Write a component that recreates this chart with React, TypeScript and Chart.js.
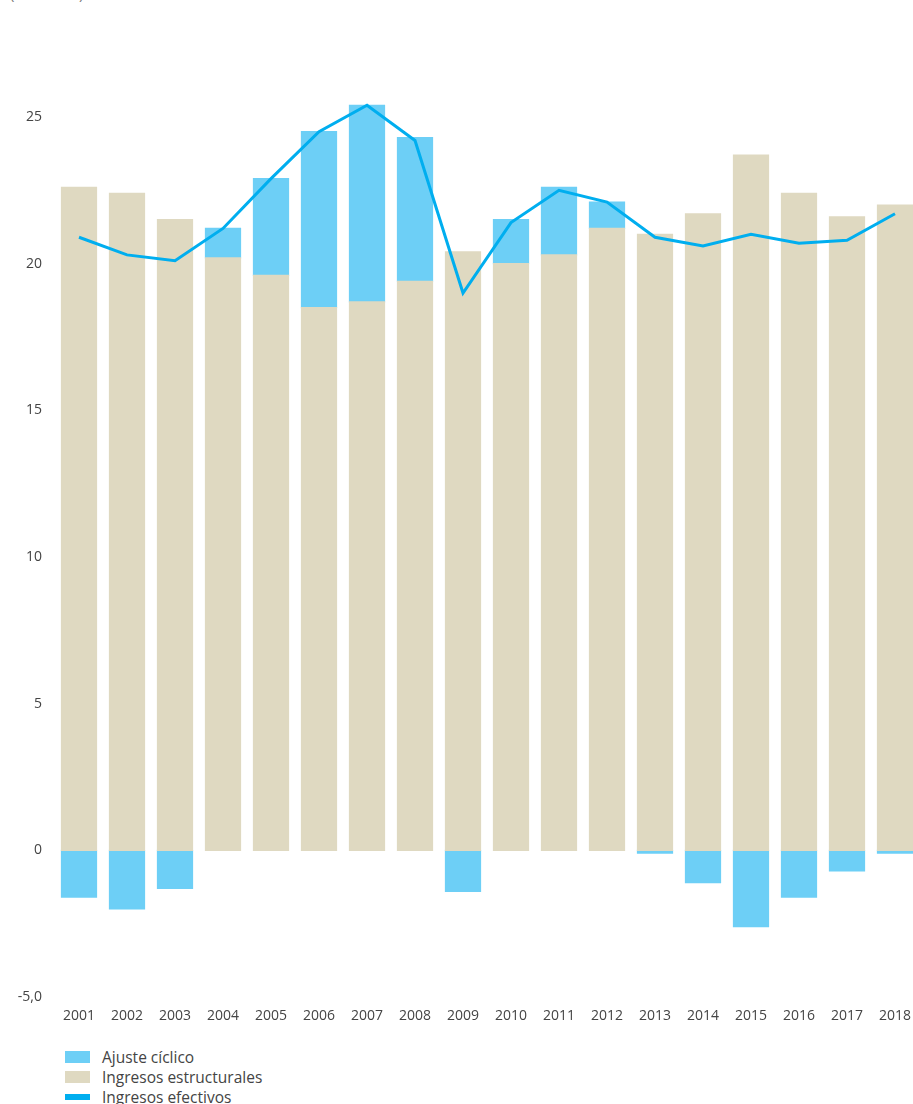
import React, { useEffect, useRef } from "react";
import { Chart, registerables } from "chart.js";

Chart.register(...registerables);

const years = ["2001","2002","2003","2004","2005","2006","2007","2008","2009","2010","2011","2012","2013","2014","2015","2016","2017","2018"];
const ingresosEstructurales = [22.6, 22.4, 21.5, 20.2, 19.6, 18.5, 18.7, 19.4, 20.4, 20.0, 20.3, 21.2, 21.0, 21.7, 23.7, 22.4, 21.6, 22.0];
const ajusteCiclico = [-1.6, -2.0, -1.3, 1.0, 3.3, 6.0, 6.7, 4.9, -1.4, 1.5, 2.3, 0.9, -0.1, -1.1, -2.6, -1.6, -0.7, -0.1];
const ingresosEfectivos = [20.9, 20.3, 20.1, 21.2, 22.9, 24.5, 25.4, 24.2, 19.0, 21.4, 22.5, 22.1, 20.9, 20.6, 21.0, 20.7, 20.8, 21.7];
const yTicks = [-5, 0, 5, 10, 15, 20, 25];

const COLOR_CICLICO = "#6dcff6";
const COLOR_ESTRUCT = "#dfd9c1";
const COLOR_EFECTIVO = "#00aeef";
const TEXT = "#444444";
const FONT = "'Open Sans', sans-serif";

export default function App() {
  const ref = useRef<HTMLCanvasElement | null>(null);

  useEffect(() => {
    if (!ref.current) return;
    const chart = new Chart(ref.current, {
      type: "bar",
      data: {
        labels: years,
        datasets: [
          {
            type: "line",
            label: "Ingresos efectivos",
            data: ingresosEfectivos,
            borderColor: COLOR_EFECTIVO,
            backgroundColor: COLOR_EFECTIVO,
            borderWidth: 3,
            pointRadius: 0,
            tension: 0,
            stack: "line",
            order: 0,
          } as any,
          {
            type: "bar",
            label: "Ingresos estructurales",
            data: ingresosEstructurales,
            backgroundColor: COLOR_ESTRUCT,
            stack: "bars",
            order: 1,
            categoryPercentage: 1,
            barPercentage: 0.73,
            inflateAmount: 0.6,
          } as any,
          {
            type: "bar",
            label: "Ajuste cíclico",
            data: ajusteCiclico,
            backgroundColor: COLOR_CICLICO,
            stack: "bars",
            order: 2,
            categoryPercentage: 1,
            barPercentage: 0.73,
            inflateAmount: 0.6,
          } as any,
        ],
      },
      options: {
        responsive: false,
        animation: false,
        layout: { padding: { top: 29, right: 6, bottom: 0, left: 0 } },
        plugins: { legend: { display: false }, tooltip: { enabled: false } },
        scales: {
          x: {
            stacked: true,
            grid: { display: false, drawTicks: false },
            border: { display: false },
            ticks: { color: TEXT, font: { family: FONT, size: 14 }, padding: 11, maxRotation: 0, autoSkip: false },
            afterFit: (s: any) => { s.height = 43; },
          },
          y: {
            stacked: true,
            min: -5,
            max: 28,
            grid: { display: false, drawTicks: false },
            border: { display: false },
            afterBuildTicks: (s: any) => { s.ticks = yTicks.map((v) => ({ value: v })); },
            afterFit: (s: any) => { s.width = 55; },
            ticks: {
              color: TEXT,
              font: { family: FONT, size: 14 },
              padding: 13,
              callback: (v: any) => (Number(v) === -5 ? "-5,0" : String(v)),
            },
          },
        },
      },
    });
    return () => chart.destroy();
  }, []);

  const legendItems = [
    { label: "Ajuste cíclico", color: COLOR_CICLICO, h: 12 },
    { label: "Ingresos estructurales", color: COLOR_ESTRUCT, h: 12 },
    { label: "Ingresos efectivos", color: COLOR_EFECTIVO, h: 6 },
  ];

  return (
    <div style={{ position: "absolute", left: 0, top: 0, width: 913, height: 1104, overflow: "hidden", background: "#fff" }}>
      <div style={{ position: "absolute", left: 10, top: -17, fontFamily: FONT, fontSize: 15, color: "#777" }}>(% del PIB)</div>
      <canvas ref={ref} width={925} height={1040} style={{ position: "absolute", left: 0, top: 0, width: 925, height: 1040 }} />
      {legendItems.map((it, i) => (
        <div key={it.label} style={{ position: "absolute", left: 65, top: 1047 + i * 20, height: 20, display: "flex", alignItems: "center", fontFamily: FONT, fontSize: 15.5, color: TEXT, whiteSpace: "nowrap" }}>
          <span style={{ display: "inline-block", width: 25, height: it.h, background: it.color, marginRight: 12 }} />
          <span>{it.label}</span>
        </div>
      ))}
    </div>
  );
}
